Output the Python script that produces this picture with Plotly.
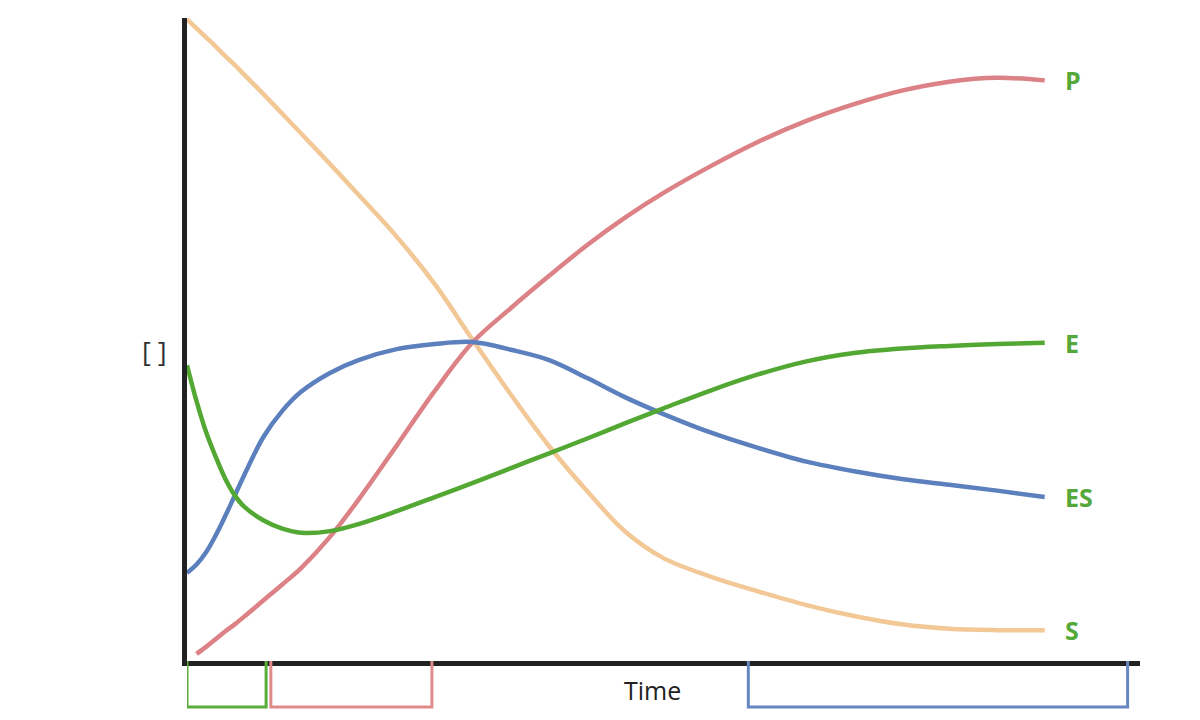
import plotly.graph_objects as go

# time grid (arbitrary units) shared by all curves
time = [0, 1, 2, 3, 4, 5, 6, 8, 10, 12, 15, 18, 22, 26, 30, 34, 38, 42, 46,
        50, 55, 60, 65, 70, 75, 80, 85, 90]

# concentrations
substrate = [99.8, 98.4, 97.0, 95.6, 94.1, 92.7, 91.2, 88.2, 85.1, 82.0, 77.3, 72.5, 66.0,
             58.6, 49.9, 41.4, 33.4, 26.4, 20.1, 16.0, 13.1, 10.8, 8.7, 7.0, 5.7, 5.0, 4.8, 4.8]
product = [None, 1.1, 2.2, 3.4, 4.6, 5.7, 6.9, 9.4, 11.9, 14.5, 19.3, 25.1, 33.5,
           42.0, 49.6, 54.9, 59.9, 64.7, 69.0, 72.8, 77.0, 80.8, 84.0, 86.6, 88.7, 90.1, 90.7, 90.3]
complex_es = [13.7, 15.0, 16.9, 19.5, 22.5, 25.7, 28.9, 34.8, 38.9, 41.9, 44.8, 46.8, 48.5,
              49.3, 49.6, 48.4, 46.8, 44.0, 41.0, 38.4, 35.5, 33.1, 31.0, 29.5, 28.3, 27.4, 26.5, 25.5]
enzyme = [46.0, 40.4, 35.6, 31.8, 28.4, 25.8, 24.0, 21.9, 20.6, 19.95, 20.2, 21.3, 23.3,
          25.5, 27.7, 30.0, 32.3, 34.6, 37.0, 39.3, 42.1, 44.6, 46.6, 47.9, 48.6, 49.0, 49.3, 49.5]

series_names = ["P", "E", "ES", "S"]

# phases marked under the time axis
phase_start = [0, 8.8, 58.9]
phase_end = [8.3, 25.7, 98.7]

colors = {"S": "#f2c896", "P": "#dc8286", "ES": "#5c80bd", "E": "#53a833"}
phase_colors = ["#5aad3a", "#e08a8c", "#6787c2"]
label_green = "#55a83a"

fig = go.Figure()

curves = {"S": substrate, "P": product, "ES": complex_es, "E": enzyme}
for name in ["S", "P", "ES", "E"]:
    fig.add_trace(go.Scatter(
        x=time, y=curves[name], mode="lines", name=name,
        line=dict(color=colors[name], width=4.5, shape="spline", smoothing=1.0),
        hoverinfo="skip", showlegend=False
    ))

# end labels
for name in series_names:
    fig.add_annotation(
        x=time[-1] + 1.9, y=curves[name][-1], text="<b>" + name + "</b>",
        showarrow=False, xanchor="left", yanchor="middle",
        font=dict(family="Open Sans", size=25, color=label_green)
    )

fig.add_annotation(
    xref="paper", yref="paper", x=-0.034, y=0.482, text="[ ]",
    showarrow=False, xanchor="center", yanchor="middle",
    font=dict(family="Open Sans", size=27, color="#333333")
)
fig.add_annotation(
    xref="paper", yref="paper", x=0.488, y=-0.045, text="Time",
    showarrow=False, xanchor="center", yanchor="middle",
    font=dict(family="Open Sans", size=25, color="#222222")
)

# U-shaped brackets below the axis
for s, e, c in zip(phase_start, phase_end, phase_colors):
    fig.add_shape(
        type="path", xref="x", yref="paper",
        path=f"M {s},0 L {s},-0.0715 L {e},-0.0715 L {e},0",
        line=dict(color=c, width=3)
    )

# page body keeps an 8px margin, so the figure is 8px smaller on each side
fig.update_layout(
    width=1192, height=712,
    paper_bgcolor="white", plot_bgcolor="white",
    margin=dict(l=179, r=60, t=10, b=59),
    xaxis=dict(range=[0, 100], showgrid=False, zeroline=False, showticklabels=False,
               ticks="", showline=True, linewidth=5, linecolor="#222222"),
    yaxis=dict(range=[0, 100], showgrid=False, zeroline=False, showticklabels=False,
               ticks="", showline=True, linewidth=5, linecolor="#222222"),
)

fig.write_html("out.html")
